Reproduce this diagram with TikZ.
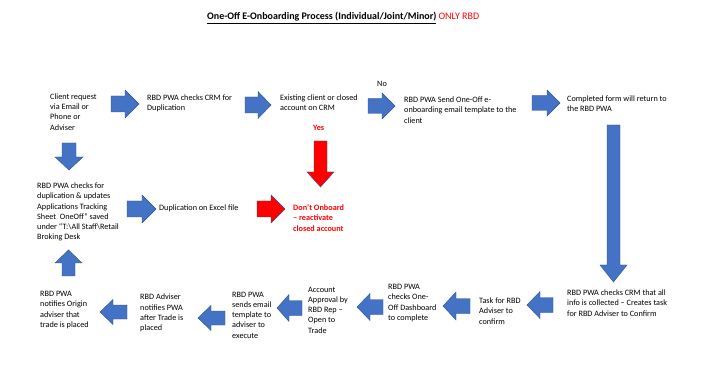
\documentclass[tikz,border=0pt]{standalone}
\usepackage{fontspec}
\setmainfont{Carlito}
\definecolor{arrowblue}{HTML}{4472C4}
\definecolor{arrowred}{HTML}{FF0000}
\definecolor{arrowedge}{HTML}{2F528F}
% block arrow: style, name, tail point, angle, length, head width, shaft width, head length
\newcommand\blockarrow[8]{%
  \begin{scope}[shift={#3}, rotate=#4]
    \path[#1] (0,{-#7/2}) -- ({#5-#8},{-#7/2}) -- ({#5-#8},{-#6/2}) -- (#5,0)
      -- ({#5-#8},{#6/2}) -- ({#5-#8},{#7/2}) -- (0,{#7/2}) -- cycle;
    \coordinate (#2) at ({#5/2},0);
  \end{scope}}
\begin{document}
\begin{tikzpicture}[x=1pt,y=-1pt,
  lbl/.style={anchor=west, align=left, inner sep=0pt, font=\fontsize{8.2}{10.2}\selectfont},
  redlbl/.style={lbl, text=arrowred, font=\fontsize{8.2}{10.2}\selectfont\bfseries},
  bluearrow/.style={fill=arrowblue, draw=arrowedge, line width=0.4pt},
  redarrow/.style={fill=arrowred, draw=arrowedge, line width=0.4pt}]
\useasboundingbox[fill=white] (0,0) rectangle (701,371);

% title
\node[anchor=west, inner sep=0pt, font=\fontsize{10}{12}\selectfont] (title) at (207,18)
  {\textbf{\underline{One-Off E-Onboarding Process (Individual/Joint/Minor)}} \textcolor{arrowred}{ONLY RBD}};

% top row
\node[lbl] (client) at (50,112) {Client request\\via Email or\\Phone or\\Adviser};
\node[lbl] (checkcrm) at (147,103) {RBD PWA checks CRM for\\Duplication};
\node[lbl] (existing) at (280,103) {Existing client or closed\\account on CRM};
\node[lbl] (no) at (377,84) {No};
\node[lbl] (sendform) at (404,110) {RBD PWA Send One-Off e-\\onboarding email template to the\\client};
\node[lbl] (returned) at (567,104) {Completed form will return to\\the RBD PWA};
\node[redlbl] (yes) at (313,128) {Yes};

% middle row
\node[lbl] (tracking) at (37,212) {RBD PWA checks for\\duplication \& updates\\Applications Tracking\\Sheet\ \ OneOff” saved\\under “T:\textbackslash All Staff\textbackslash Retail\\Broking Desk};
\node[lbl] (excel) at (159,208) {Duplication on Excel file};
\node[redlbl] (dont) at (293,218) {Don’t Onboard\\– reactivate\\closed account};

% bottom row
\node[lbl] (notifyorigin) at (40,310) {RBD PWA\\notifies Origin\\adviser that\\trade is placed};
\node[lbl] (notifypwa) at (140,313) {RBD Adviser\\notifies PWA\\after Trade is\\placed};
\node[lbl] (sendemail) at (232,315) {RBD PWA\\sends email\\template to\\adviser to\\execute};
\node[lbl] (approval) at (308,310) {Account\\Approval by\\RBD Rep –\\Open to\\Trade};
\node[lbl] (dashboard) at (388,303) {RBD PWA\\checks One-\\Off Dashboard\\to complete};
\node[lbl] (task) at (479,311) {Task for RBD\\Adviser to\\confirm};
\node[lbl] (collected) at (567,303) {RBD PWA checks CRM that all\\info is collected – Creates task\\for RBD Adviser to Confirm};

% arrows between steps
\blockarrow{bluearrow}{r1}{(111,104)}{0}{28}{28}{16}{14}
\blockarrow{bluearrow}{r2}{(245,105)}{0}{26}{27}{16}{13}
\blockarrow{bluearrow}{r3}{(368,106)}{0}{27}{26}{15}{13}
\blockarrow{bluearrow}{r4}{(532,103)}{0}{28}{26}{15}{13}
\blockarrow{bluearrow}{d1}{(613.5,125)}{-90}{157}{27}{13}{17}
\blockarrow{bluearrow}{d2}{(69,143)}{-90}{27}{28}{14}{13}
\blockarrow{redarrow}{d3}{(320.5,141)}{-90}{46}{27}{13}{15}
\blockarrow{bluearrow}{r5}{(127,209)}{0}{29}{28}{16}{14}
\blockarrow{redarrow}{r6}{(257,209)}{0}{28}{28}{16}{14}
\blockarrow{bluearrow}{u1}{(68.5,276)}{90}{26}{27}{13}{13}
\blockarrow{bluearrow}{l1}{(127,312)}{180}{27}{25}{14}{13}
\blockarrow{bluearrow}{l2}{(225,318)}{180}{27}{25}{14}{13}
\blockarrow{bluearrow}{l3}{(302,308)}{180}{25}{27}{15}{12}
\blockarrow{bluearrow}{l4}{(383,307)}{180}{26}{27}{15}{13}
\blockarrow{bluearrow}{l5}{(470,306)}{180}{27}{28}{15}{13}
\blockarrow{bluearrow}{l6}{(553,305)}{180}{26}{27}{15}{13}
\end{tikzpicture}
\end{document}
